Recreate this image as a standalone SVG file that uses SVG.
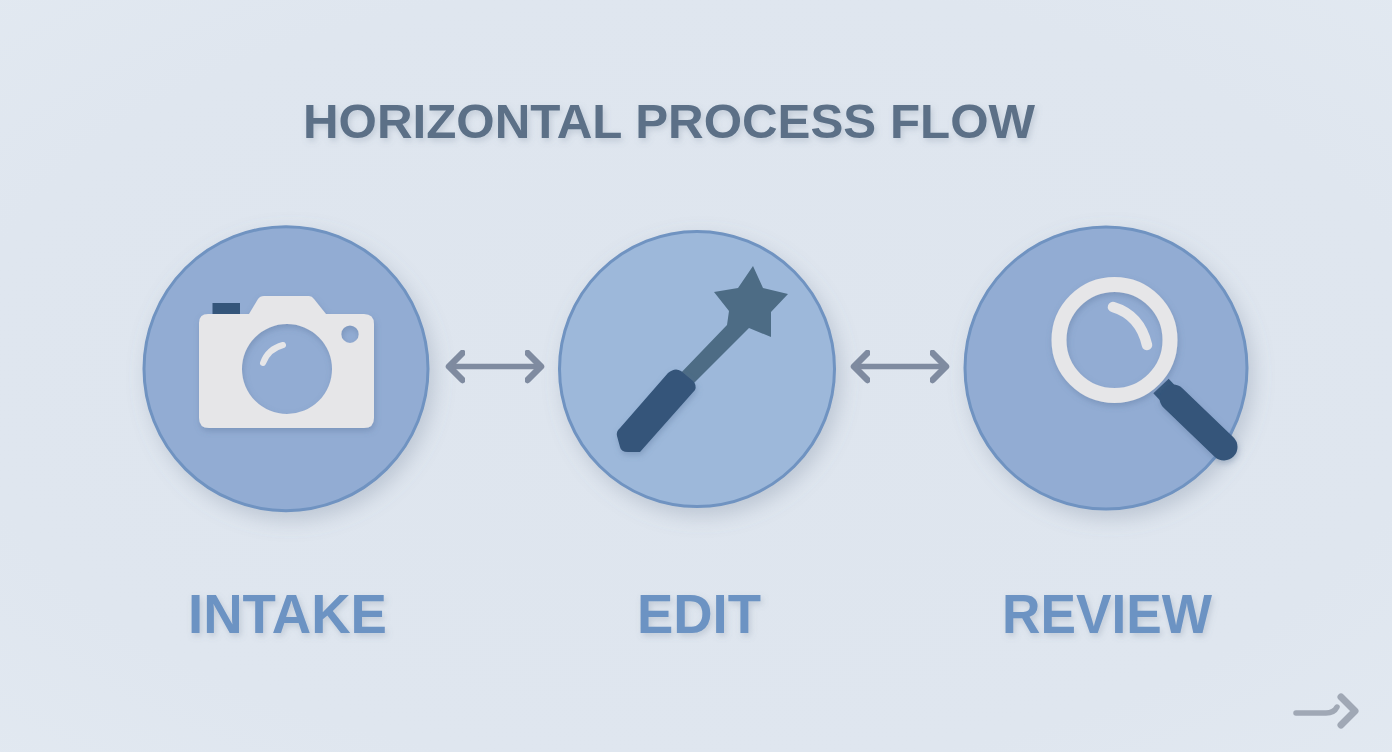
<svg xmlns="http://www.w3.org/2000/svg" width="1392" height="752" viewBox="0 0 1392 752">
<style>
.title{font:bold 49px "Liberation Sans",Arial,sans-serif;fill:#5b7087}
.label{font:bold 55px "Liberation Sans",Arial,sans-serif;fill:#6c93c3}
.disc{stroke:#6f93c1;stroke-width:3}
.light{fill:#e6e6e8}
.dark{fill:#34557a}
.conn{fill:none;stroke:#7f8ba0;stroke-width:5.500;stroke-linecap:round;stroke-linejoin:round}
.soft{stroke:#a0a8b5}
</style>
<defs>
<radialGradient id="bg" cx="50%" cy="50%" r="75%"><stop offset="0" stop-color="#dee5ee"/><stop offset="0.7" stop-color="#dfe6ef"/><stop offset="1" stop-color="#e2e9f1"/></radialGradient>
<filter id="ds" filterUnits="userSpaceOnUse" x="0" y="0" width="1392" height="752"><feDropShadow dx="5" dy="8" stdDeviation="10" flood-color="#6d7f95" flood-opacity="0.3"/></filter>
<filter id="is" filterUnits="userSpaceOnUse" x="0" y="0" width="1392" height="752"><feDropShadow dx="1" dy="3" stdDeviation="3" flood-color="#4f6c92" flood-opacity="0.35"/></filter>
<filter id="ts" filterUnits="userSpaceOnUse" x="0" y="0" width="1392" height="752"><feDropShadow dx="2" dy="3" stdDeviation="3" flood-color="#6d7f95" flood-opacity="0.28"/></filter>
<marker id="head" viewBox="-16 -17 20 34" refX="0" refY="0" markerUnits="userSpaceOnUse" markerWidth="20" markerHeight="34" orient="auto-start-reverse"><path d="M-13.500 -13.500 L0 0 L-13.500 13.500" fill="none" stroke="#7f8ba0" stroke-width="6.500" stroke-linecap="round" stroke-linejoin="round"/></marker>
</defs>
<rect width="1392" height="752" fill="url(#bg)"/>
<text class="title" x="303" y="138" textLength="732" lengthAdjust="spacingAndGlyphs" filter="url(#ts)">HORIZONTAL PROCESS FLOW</text>

<g id="connectors">
<path class="conn" d="M449 366.500H541" marker-start="url(#head)" marker-end="url(#head)"/>
<path class="conn" d="M854 366.500H946" marker-start="url(#head)" marker-end="url(#head)"/>
<g id="corner-arrow"><path class="conn soft" d="M1296 713H1326Q1334 713 1337 707"/><path class="conn soft" style="stroke-width:7" d="M1341 697L1355 711L1341 725"/></g>
</g>

<g id="intake">
<circle class="disc" cx="286" cy="368.700" r="142" fill="#92acd3" filter="url(#ds)"/>
<rect class="dark" x="212.500" y="303" width="27.500" height="13"/>
<path class="light" filter="url(#is)" fill-rule="evenodd" d="M208 314H249L258 299Q260 296 264 296H309Q312 296 314 299L326 314H364Q374 314 374 324V418Q374 428 364 428H209Q199 428 199 418V323Q199 314 208 314ZM287 324A45 45 0 1 0 287 414A45 45 0 1 0 287 324ZM350 325.500A8.700 8.700 0 1 0 350 342.900A8.700 8.700 0 1 0 350 325.500Z"/>
<path d="M263 363Q268 349 283 345" fill="none" stroke="#e6e6e8" stroke-width="6" stroke-linecap="round"/>
<text class="label" x="188" y="633" textLength="199" lengthAdjust="spacingAndGlyphs" filter="url(#ts)">INTAKE</text>
</g>

<g id="edit">
<circle class="disc" cx="697" cy="369" r="137.500" fill="#9db8da" filter="url(#ds)"/>
<path fill="#4d6c85" d="M753 266L763 288L788 294L771 312L771 337L749 328L688 389L676 378L727 325L729 311L714 292L738 288Z"/>
<path class="dark" filter="url(#is)" d="M668 373Q675 367 681 371L693 381Q697 385 695 390L640 452H628Q621 452 620 447L617 436Q616 431 620 428Z"/>
<text class="label" x="637" y="633" textLength="124" lengthAdjust="spacingAndGlyphs" filter="url(#ts)">EDIT</text>
</g>

<g id="review">
<circle class="disc" cx="1106" cy="368" r="141" fill="#92acd3" filter="url(#ds)"/>
<path d="M1161 386L1175 401" stroke="#34557a" stroke-width="21" fill="none"/>
<path d="M1173 398L1224 447" stroke="#34557a" stroke-width="27" stroke-linecap="round" fill="none" filter="url(#is)"/>
<circle cx="1114.500" cy="340" r="55.500" fill="none" stroke="#e6e6e8" stroke-width="15" filter="url(#is)"/>
<path d="M1113 307Q1140 315 1147 345" fill="none" stroke="#e6e6e8" stroke-width="10.500" stroke-linecap="round"/>
<text class="label" x="1002" y="633" textLength="210" lengthAdjust="spacingAndGlyphs" filter="url(#ts)">REVIEW</text>
</g>
</svg>
